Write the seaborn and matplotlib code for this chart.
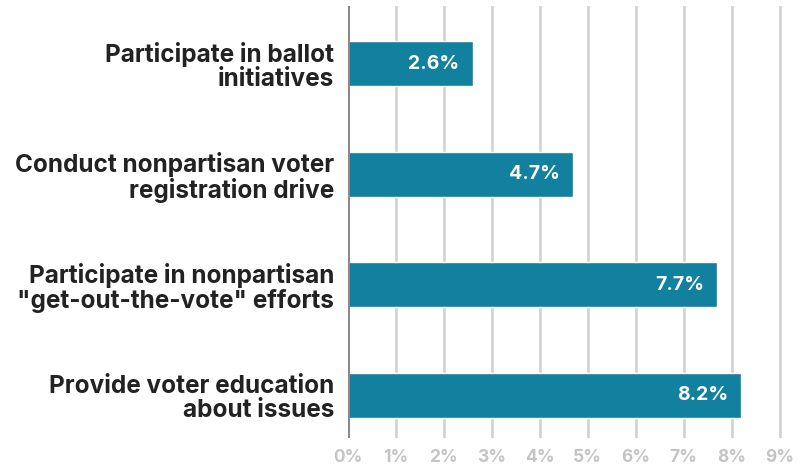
import matplotlib
matplotlib.use("Agg")
import matplotlib.pyplot as plt
import seaborn as sns
import pandas as pd

activities = ['Participate in ballot\ninitiatives',
              'Conduct nonpartisan voter\nregistration drive',
              'Participate in nonpartisan\n"get-out-the-vote" efforts',
              'Provide voter education\nabout issues']
shares = [2.6, 4.7, 7.7, 8.2]
tick_values = [0, 1, 2, 3, 4, 5, 6, 7, 8, 9]
tick_labels = ['0%', '1%', '2%', '3%', '4%', '5%', '6%', '7%', '8%', '9%']

df = pd.DataFrame({'activity': activities, 'share': shares})

sns.set_style('white')
plt.rcParams['font.family'] = ['Inter', 'DejaVu Sans']

fig = plt.figure(figsize=(8.12, 4.66), dpi=100)
ax = fig.add_axes([348 / 812, 1 - 438 / 466, 446 / 812, 432 / 466])

bar_color = '#12809f'
sns.barplot(data=df, x='share', y='activity', orient='h', color=bar_color,
            width=0.41, saturation=1, ax=ax, zorder=3)

ax.set_xlim(0, 9.3)
ax.set_ylim(3.386, -0.523)

# gridlines
for v in tick_values[1:]:
    ax.axvline(v, color='#d4d4d4', lw=2, zorder=1)
ax.axvline(0, color='#8a8a8a', lw=2.2, zorder=4)

for sp in ax.spines.values():
    sp.set_visible(False)

ax.set_xticks(tick_values)
ax.set_xticklabels(tick_labels)
ax.tick_params(axis='x', length=0, pad=8, labelsize=12.5, labelcolor='#c4c4c4')
for t in ax.get_xticklabels():
    t.set_fontweight('bold')

ax.tick_params(axis='y', length=0, pad=10, labelsize=17.5, labelcolor='#222222')
for t in ax.get_yticklabels():
    t.set_fontweight('bold')
    t.set_linespacing(1.05)
    t.set_horizontalalignment('right')

ax.set_xlabel('')
ax.set_ylabel('')

for i, v in enumerate(shares):
    ax.text(v - 0.28, i, f'{v:.1f}%', ha='right', va='center', color='white',
            fontsize=14, fontweight='bold', zorder=5)

fig.savefig('out.png', dpi=100)
